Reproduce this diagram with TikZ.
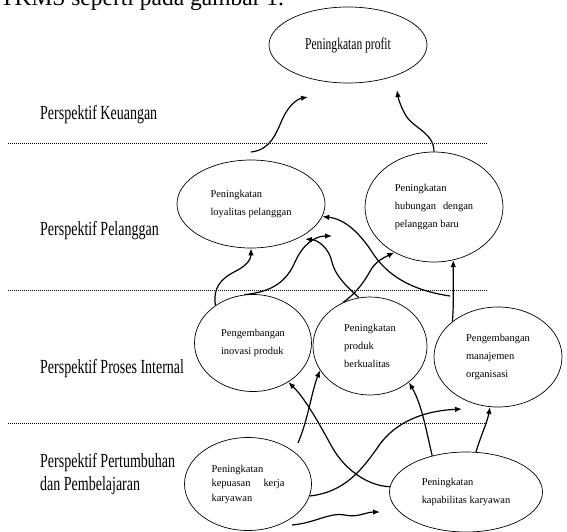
\documentclass[tikz,border=0pt]{standalone}
\usepackage{fontspec}
\setmainfont{Liberation Serif}
\newfontfamily\narrowfont[FakeStretch=0.7]{Liberation Serif}
\usetikzlibrary{arrows.meta,shapes.geometric}

\begin{document}
\begin{tikzpicture}[x=1pt,y=-1pt,
  goal/.style={draw,ellipse,line width=.7pt,inner sep=0pt,align=left,font=\fontsize{10.45}{18}\selectfont},
  persp/.style={anchor=base west,inner sep=0pt,align=left,font=\narrowfont\fontsize{20}{23}\selectfont},
  layerline/.style={line width=.8pt,dash pattern=on 1.2pt off .8pt},
  link/.style={line width=1.2pt,-{Latex[length=7pt,width=5.5pt]}}]
\useasboundingbox (0,0) rectangle (567,531);
% cut-off sentence above the figure
\node[anchor=base west,inner sep=0pt,font=\fontsize{23.5}{26}\selectfont] (intro) at (0,5) {TKMS seperti pada gambar 1.};
% perspectives
\node[persp] (keuangan) at (40,119) {Perspektif Keuangan};
\node[persp] (pelanggan) at (40,235) {Perspektif Pelanggan};
\node[persp] (internal) at (40,373) {Perspektif Proses Internal};
\node[persp,anchor=north west] (pertumbuhan) at (40,453.5) {Perspektif Pertumbuhan\\dan Pembelajaran};
\draw[layerline] (8,143) -- (487,143);
\draw[layerline] (8,290) -- (487,290);
\draw[layerline] (8,423) -- (487,423);
% goals
\node[goal,minimum width=158pt,minimum height=76pt,font=\narrowfont\fontsize{16.5}{18}\selectfont] (profit) at (348,45) {Peningkatan profit};
\node[goal,minimum width=148pt,minimum height=88pt] (loyalitas) at (251,204) {Peningkatan\\loyalitas pelanggan};
\node[goal,minimum width=138pt,minimum height=110pt] (hubungan) at (434,207) {Peningkatan\\hubungan\hspace{7pt}dengan\\pelanggan baru};
\node[goal,minimum width=117pt,minimum height=97pt] (inovasi) at (253,343) {Pengembangan\\inovasi produk};
\node[goal,minimum width=114pt,minimum height=98pt] (produk) at (370,346) {Peningkatan\\produk\\berkualitas};
\node[goal,minimum width=128pt,minimum height=100pt] (manajemen) at (498,357) {Pengembangan\\manajemen\\organisasi};
\node[goal,minimum width=127pt,minimum height=93pt,font=\fontsize{10.45}{14.5}\selectfont] (kepuasan) at (248,484) {Peningkatan\\kepuasan\hspace{13pt}kerja\\karyawan};
\node[goal,minimum width=153pt,minimum height=80pt] (kapabilitas) at (466,492) {Peningkatan\\kapabilitas karyawan};
% free ends of the arrows
\coordinate (loyTop) at (251,152);
\coordinate (profitL) at (308,97);
\coordinate (profitR) at (397,90);
\coordinate (dEnd) at (332,236);
\coordinate (eEnd) at (305,239);
\coordinate (gStart) at (450,296);
\coordinate (iStart) at (298,443);
\coordinate (kEnd) at (462,409);
\coordinate (lStart) at (292,525);
\coordinate (lEnd) at (380,512);
% causal links
\draw[link] (loyTop) .. controls (270,150) and (276,134) .. (282,120) .. controls (288,106) and (297,99) .. (profitL);
\draw[link] (hubungan.north) .. controls (434,132) and (412,128) .. (405,114) .. controls (400,105) and (398,97) .. (profitR);
\draw[link] (inovasi.135) .. controls (213,288) and (220,279) .. (236,271) .. controls (248,265) and (251,258) .. (loyalitas.south);
\draw[link] (inovasi.100) .. controls (268,292) and (285,285) .. (295,262) .. controls (303,244) and (315,236) .. (dEnd);
\draw[link] (produk.103) .. controls (345,285) and (335,275) .. (332,262) .. controls (329,248) and (318,240) .. (eEnd);
\draw[link] (produk.122) .. controls (358,292) and (365,280) .. (372,268) .. controls (377,261) and (383,258) .. (hubungan.229);
\draw[link] (gStart) .. controls (410,290) and (388,275) .. (374,255) .. controls (360,233) and (345,219) .. (loyalitas.350);
\draw[link] (manajemen.142) .. controls (454,300) and (453,282) .. (hubungan.290);
\draw[link] (iStart) .. controls (308,420) and (312,390) .. (produk.206);
\draw[link] (kapabilitas.176) .. controls (368,486) and (345,470) .. (332,447) .. controls (320,425) and (305,398) .. (inovasi.312);
\draw[link] (kepuasan.349) .. controls (345,492) and (362,470) .. (380,444) .. controls (395,424) and (420,411) .. (kEnd);
\draw[link] (lStart) .. controls (315,523) and (330,512) .. (345,515) .. controls (357,518) and (366,512) .. (lEnd);
\draw[link] (kapabilitas.133) .. controls (426,430) and (422,405) .. (produk.317);
\draw[link] (kapabilitas.76) .. controls (481,435) and (487,423) .. (manajemen.261);
\end{tikzpicture}
\end{document}
